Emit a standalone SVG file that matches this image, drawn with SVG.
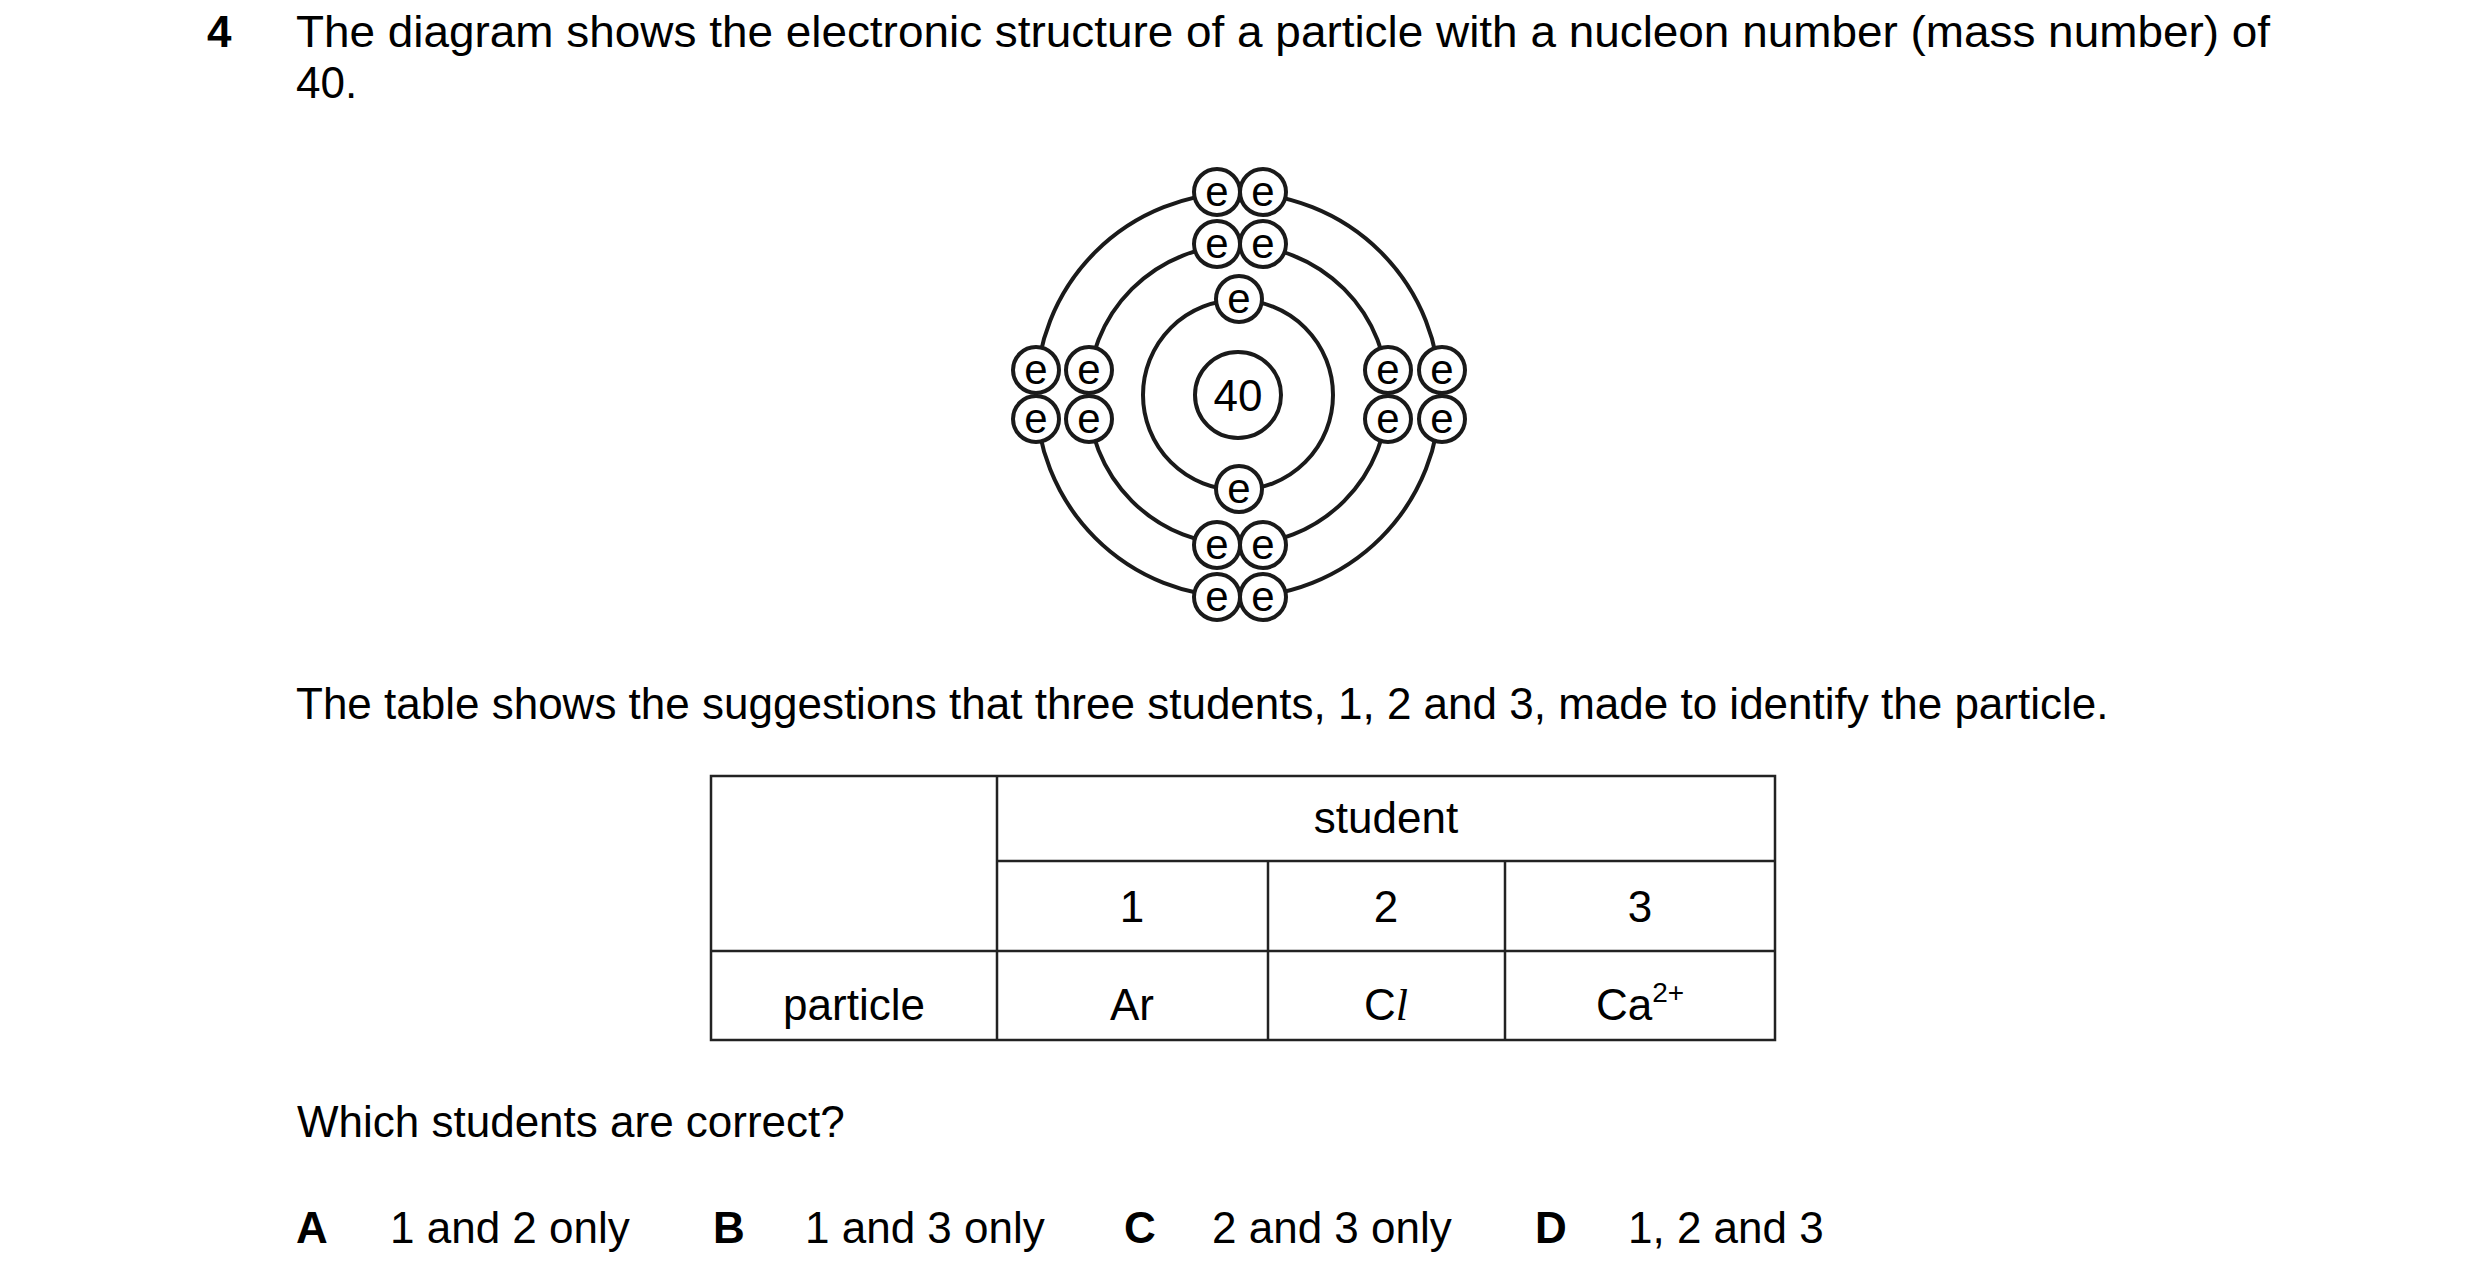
<svg xmlns="http://www.w3.org/2000/svg" width="2480" height="1284" viewBox="0 0 2480 1284">
<style>
text{font-family:"Liberation Sans",Arial,sans-serif;font-size:44px;fill:#000}
.b{font-weight:bold}
.m{text-anchor:middle}
.shell{fill:none;stroke:#1a1a1a;stroke-width:4}
.el circle{fill:#fff;stroke:#1a1a1a;stroke-width:4}
.el text{font-size:42px;text-anchor:middle}
.tb{fill:none;stroke:#222;stroke-width:2.5}
</style>
<rect width="2480" height="1284" fill="#fff"/>
<text class="b" x="207" y="47">4</text>
<text x="296" y="47" textLength="1974" lengthAdjust="spacingAndGlyphs">The diagram shows the electronic structure of a particle with a nucleon number (mass number) of</text>
<text x="296" y="98">40.</text>
<g id="atom">
<circle class="shell" cx="1238" cy="395" r="202"/>
<circle class="shell" cx="1238" cy="395" r="150"/>
<circle class="shell" cx="1238" cy="395" r="95"/>
<g id="nucleus"><circle class="shell" cx="1238" cy="395" r="43"/><text class="m" x="1238" y="411" font-size="46">40</text></g>
<g class="el">
<circle cx="1217" cy="192" r="23"/><text x="1217" y="206">e</text>
<circle cx="1263" cy="192" r="23"/><text x="1263" y="206">e</text>
<circle cx="1217" cy="244" r="23"/><text x="1217" y="258">e</text>
<circle cx="1263" cy="244" r="23"/><text x="1263" y="258">e</text>
<circle cx="1239" cy="299" r="23"/><text x="1239" y="313">e</text>
<circle cx="1239" cy="489" r="23"/><text x="1239" y="503">e</text>
<circle cx="1217" cy="545" r="23"/><text x="1217" y="559">e</text>
<circle cx="1263" cy="545" r="23"/><text x="1263" y="559">e</text>
<circle cx="1217" cy="597" r="23"/><text x="1217" y="611">e</text>
<circle cx="1263" cy="597" r="23"/><text x="1263" y="611">e</text>
<circle cx="1036" cy="370" r="23"/><text x="1036" y="384">e</text>
<circle cx="1089" cy="370" r="23"/><text x="1089" y="384">e</text>
<circle cx="1036" cy="419" r="23"/><text x="1036" y="433">e</text>
<circle cx="1089" cy="419" r="23"/><text x="1089" y="433">e</text>
<circle cx="1388" cy="370" r="23"/><text x="1388" y="384">e</text>
<circle cx="1442" cy="370" r="23"/><text x="1442" y="384">e</text>
<circle cx="1388" cy="419" r="23"/><text x="1388" y="433">e</text>
<circle cx="1442" cy="419" r="23"/><text x="1442" y="433">e</text>
</g>
</g>
<text x="296" y="719">The table shows the suggestions that three students, 1, 2 and 3, made to identify the particle.</text>
<g id="table">
<rect class="tb" x="711" y="776" width="1064" height="264"/>
<line class="tb" x1="997" y1="776" x2="997" y2="1040"/>
<line class="tb" x1="997" y1="861" x2="1775" y2="861"/>
<line class="tb" x1="711" y1="951" x2="1775" y2="951"/>
<line class="tb" x1="1268" y1="861" x2="1268" y2="1040"/>
<line class="tb" x1="1505" y1="861" x2="1505" y2="1040"/>
<text class="m" x="1386" y="833">student</text>
<text class="m" x="1132" y="922">1</text>
<text class="m" x="1386" y="922">2</text>
<text class="m" x="1640" y="922">3</text>
<text class="m" x="854" y="1020">particle</text>
<text class="m" x="1132" y="1020">Ar</text>
<text class="m" x="1386" y="1020">C<tspan font-family="'Liberation Serif',serif" font-style="italic">l</tspan></text>
<text x="1596" y="1020">Ca<tspan font-size="28" dy="-18">2+</tspan></text>
</g>
<text x="297" y="1137">Which students are correct?</text>
<text class="b" x="296" y="1243">A</text><text x="390" y="1243">1 and 2 only</text>
<text class="b" x="713" y="1243">B</text><text x="805" y="1243">1 and 3 only</text>
<text class="b" x="1124" y="1243">C</text><text x="1212" y="1243">2 and 3 only</text>
<text class="b" x="1535" y="1243">D</text><text x="1628" y="1243">1, 2 and 3</text>
</svg>
